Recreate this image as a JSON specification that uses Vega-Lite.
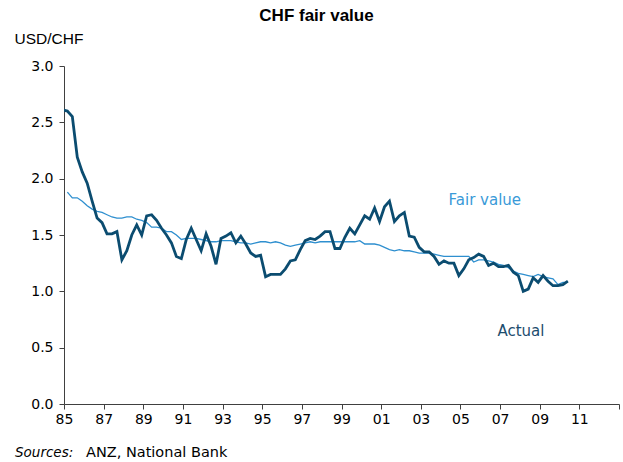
{
  "$schema": "https://vega.github.io/schema/vega-lite/v6.json",
  "width": 555,
  "height": 338,
  "autosize": {"type": "none"},
  "padding": {"left": 64, "top": 66, "right": 4, "bottom": 58},
  "background": "white",
  "title": {"text": "CHF fair value", "font": "Liberation Sans", "fontSize": 17, "fontWeight": "bold", "color": "#000000", "anchor": "middle", "dx": -25, "offset": 6},
  "config": {
    "view": {"stroke": null},
    "axis": {"grid": false, "domainColor": "#404040", "tickColor": "#404040", "labelColor": "#000000", "labelFont": "DejaVu Sans", "labelFontSize": 14, "tickSize": 5, "domainWidth": 1, "tickWidth": 1},
    "axisX": {"labelOverlap": false, "labelSeparation": 0, "labelBound": false, "labelFlush": false}
  },
  "data": {
    "values": [
      {"year": 1984.92, "actual": 2.61, "fair": null},
      {"year": 1985.17, "actual": 2.60, "fair": 1.88},
      {"year": 1985.42, "actual": 2.55, "fair": 1.83},
      {"year": 1985.67, "actual": 2.19, "fair": 1.83},
      {"year": 1985.92, "actual": 2.06, "fair": 1.80},
      {"year": 1986.17, "actual": 1.96, "fair": 1.76},
      {"year": 1986.42, "actual": 1.80, "fair": 1.73},
      {"year": 1986.67, "actual": 1.65, "fair": 1.71},
      {"year": 1986.92, "actual": 1.61, "fair": 1.70},
      {"year": 1987.17, "actual": 1.51, "fair": 1.68},
      {"year": 1987.42, "actual": 1.51, "fair": 1.66},
      {"year": 1987.67, "actual": 1.53, "fair": 1.65},
      {"year": 1987.92, "actual": 1.28, "fair": 1.65},
      {"year": 1988.17, "actual": 1.36, "fair": 1.66},
      {"year": 1988.42, "actual": 1.50, "fair": 1.66},
      {"year": 1988.67, "actual": 1.59, "fair": 1.64},
      {"year": 1988.92, "actual": 1.50, "fair": 1.63},
      {"year": 1989.17, "actual": 1.67, "fair": 1.61},
      {"year": 1989.42, "actual": 1.68, "fair": 1.57},
      {"year": 1989.67, "actual": 1.63, "fair": 1.57},
      {"year": 1989.92, "actual": 1.56, "fair": 1.56},
      {"year": 1990.17, "actual": 1.50, "fair": 1.53},
      {"year": 1990.42, "actual": 1.43, "fair": 1.53},
      {"year": 1990.67, "actual": 1.31, "fair": 1.50},
      {"year": 1990.92, "actual": 1.29, "fair": 1.46},
      {"year": 1991.17, "actual": 1.46, "fair": 1.47},
      {"year": 1991.42, "actual": 1.56, "fair": 1.47},
      {"year": 1991.67, "actual": 1.46, "fair": 1.47},
      {"year": 1991.92, "actual": 1.36, "fair": 1.46},
      {"year": 1992.17, "actual": 1.51, "fair": 1.45},
      {"year": 1992.42, "actual": 1.40, "fair": 1.44},
      {"year": 1992.67, "actual": 1.24, "fair": 1.44},
      {"year": 1992.92, "actual": 1.47, "fair": 1.45},
      {"year": 1993.17, "actual": 1.49, "fair": 1.45},
      {"year": 1993.42, "actual": 1.52, "fair": 1.45},
      {"year": 1993.67, "actual": 1.43, "fair": 1.44},
      {"year": 1993.92, "actual": 1.49, "fair": 1.43},
      {"year": 1994.17, "actual": 1.42, "fair": 1.43},
      {"year": 1994.42, "actual": 1.34, "fair": 1.42},
      {"year": 1994.67, "actual": 1.31, "fair": 1.43},
      {"year": 1994.92, "actual": 1.32, "fair": 1.44},
      {"year": 1995.17, "actual": 1.13, "fair": 1.44},
      {"year": 1995.42, "actual": 1.15, "fair": 1.43},
      {"year": 1995.67, "actual": 1.15, "fair": 1.44},
      {"year": 1995.92, "actual": 1.15, "fair": 1.43},
      {"year": 1996.17, "actual": 1.20, "fair": 1.41},
      {"year": 1996.42, "actual": 1.27, "fair": 1.40},
      {"year": 1996.67, "actual": 1.28, "fair": 1.41},
      {"year": 1996.92, "actual": 1.37, "fair": 1.42},
      {"year": 1997.17, "actual": 1.45, "fair": 1.43},
      {"year": 1997.42, "actual": 1.47, "fair": 1.44},
      {"year": 1997.67, "actual": 1.46, "fair": 1.43},
      {"year": 1997.92, "actual": 1.49, "fair": 1.44},
      {"year": 1998.17, "actual": 1.53, "fair": 1.44},
      {"year": 1998.42, "actual": 1.53, "fair": 1.44},
      {"year": 1998.67, "actual": 1.38, "fair": 1.44},
      {"year": 1998.92, "actual": 1.38, "fair": 1.44},
      {"year": 1999.17, "actual": 1.48, "fair": 1.44},
      {"year": 1999.42, "actual": 1.56, "fair": 1.44},
      {"year": 1999.67, "actual": 1.51, "fair": 1.44},
      {"year": 1999.92, "actual": 1.59, "fair": 1.45},
      {"year": 2000.17, "actual": 1.67, "fair": 1.42},
      {"year": 2000.42, "actual": 1.64, "fair": 1.42},
      {"year": 2000.67, "actual": 1.74, "fair": 1.42},
      {"year": 2000.92, "actual": 1.62, "fair": 1.41},
      {"year": 2001.17, "actual": 1.75, "fair": 1.39},
      {"year": 2001.42, "actual": 1.80, "fair": 1.37},
      {"year": 2001.67, "actual": 1.62, "fair": 1.36},
      {"year": 2001.92, "actual": 1.67, "fair": 1.37},
      {"year": 2002.17, "actual": 1.70, "fair": 1.36},
      {"year": 2002.42, "actual": 1.49, "fair": 1.36},
      {"year": 2002.67, "actual": 1.48, "fair": 1.35},
      {"year": 2002.92, "actual": 1.39, "fair": 1.34},
      {"year": 2003.17, "actual": 1.35, "fair": 1.34},
      {"year": 2003.42, "actual": 1.35, "fair": 1.34},
      {"year": 2003.67, "actual": 1.31, "fair": 1.33},
      {"year": 2003.92, "actual": 1.24, "fair": 1.32},
      {"year": 2004.17, "actual": 1.27, "fair": 1.31},
      {"year": 2004.42, "actual": 1.25, "fair": 1.31},
      {"year": 2004.67, "actual": 1.25, "fair": 1.31},
      {"year": 2004.92, "actual": 1.14, "fair": 1.31},
      {"year": 2005.17, "actual": 1.20, "fair": 1.31},
      {"year": 2005.42, "actual": 1.28, "fair": 1.31},
      {"year": 2005.67, "actual": 1.30, "fair": 1.26},
      {"year": 2005.92, "actual": 1.33, "fair": 1.28},
      {"year": 2006.17, "actual": 1.31, "fair": 1.28},
      {"year": 2006.42, "actual": 1.23, "fair": 1.27},
      {"year": 2006.67, "actual": 1.25, "fair": 1.26},
      {"year": 2006.92, "actual": 1.22, "fair": 1.24},
      {"year": 2007.17, "actual": 1.22, "fair": 1.23},
      {"year": 2007.42, "actual": 1.23, "fair": 1.21},
      {"year": 2007.67, "actual": 1.17, "fair": 1.18},
      {"year": 2007.92, "actual": 1.14, "fair": 1.16},
      {"year": 2008.17, "actual": 1.00, "fair": 1.15},
      {"year": 2008.42, "actual": 1.02, "fair": 1.14},
      {"year": 2008.67, "actual": 1.12, "fair": 1.13},
      {"year": 2008.92, "actual": 1.08, "fair": 1.15},
      {"year": 2009.17, "actual": 1.14, "fair": 1.13},
      {"year": 2009.42, "actual": 1.09, "fair": 1.12},
      {"year": 2009.67, "actual": 1.05, "fair": 1.11},
      {"year": 2009.92, "actual": 1.05, "fair": 1.06},
      {"year": 2010.17, "actual": 1.06, "fair": 1.08},
      {"year": 2010.42, "actual": 1.09, "fair": 1.08}
    ]
  },
  "layer": [
    {
      "mark": {"type": "line", "color": "#2E8FCF", "strokeWidth": 1.3, "clip": true},
      "encoding": {
        "x": {"field": "year", "type": "quantitative", "scale": {"domain": [1985, 2013], "nice": false, "zero": false},
          "axis": {"title": null, "values": [1985, 1987, 1989, 1991, 1993, 1995, 1997, 1999, 2001, 2003, 2005, 2007, 2009, 2011, 2013], "tickCount": 40, "labelExpr": "datum.value >= 2013 ? '' : substring(toString(datum.value), 2)", "labelPadding": 3, "labelFlush": false, "labelOverlap": false, "labelSeparation": 0}},
        "y": {"field": "fair", "type": "quantitative", "scale": {"domain": [0, 3], "nice": false},
          "axis": {"title": "USD/CHF", "values": [0, 0.5, 1, 1.5, 2, 2.5, 3], "tickCount": 20, "format": ".1f", "labelPadding": 6, "titleAngle": 0, "titleAlign": "left", "titleBaseline": "alphabetic", "titleX": -50, "titleY": -23, "titleFont": "Liberation Sans", "titleFontSize": 15.5, "titleFontWeight": "normal", "titleColor": "#000000"}}
      }
    },
    {
      "mark": {"type": "line", "color": "#0B4C70", "strokeWidth": 2.8, "clip": true},
      "encoding": {
        "x": {"field": "year", "type": "quantitative"},
        "y": {"field": "actual", "type": "quantitative"}
      }
    },
    {
      "data": {"values": [{"label": "Fair value"}]},
      "mark": {"type": "text", "font": "DejaVu Sans", "fontSize": 15, "color": "#3A9AD8", "align": "center", "baseline": "alphabetic"},
      "encoding": {"text": {"field": "label"}, "x": {"datum": 2006.23}, "y": {"datum": 1.764}}
    },
    {
      "data": {"values": [{"label": "Actual"}]},
      "mark": {"type": "text", "font": "DejaVu Sans", "fontSize": 15, "color": "#1D4D6E", "align": "center", "baseline": "alphabetic"},
      "encoding": {"text": {"field": "label"}, "x": {"datum": 2008.05}, "y": {"datum": 0.6}}
    },
    {
      "data": {"values": [{"label": "Sources:"}]},
      "mark": {"type": "text", "font": "DejaVu Sans", "fontStyle": "italic", "fontSize": 13.5, "color": "#000000", "align": "left", "baseline": "alphabetic", "dx": -49, "dy": 52.5},
      "encoding": {"text": {"field": "label"}, "x": {"datum": 1985}, "y": {"datum": 0}}
    },
    {
      "data": {"values": [{"label": "ANZ, National Bank"}]},
      "mark": {"type": "text", "font": "DejaVu Sans", "fontSize": 14.5, "color": "#000000", "align": "left", "baseline": "alphabetic", "dx": 22, "dy": 52.5},
      "encoding": {"text": {"field": "label"}, "x": {"datum": 1985}, "y": {"datum": 0}}
    }
  ]
}
